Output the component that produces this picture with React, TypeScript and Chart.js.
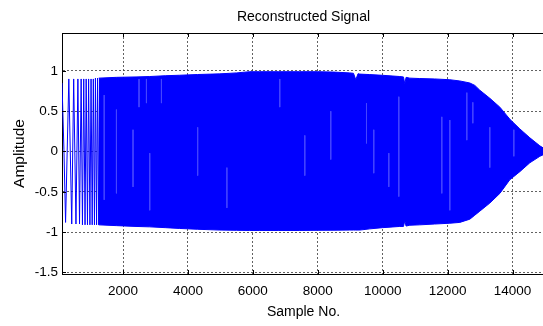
import React, { useEffect, useRef } from "react";
import { Chart, registerables } from "chart.js";

Chart.register(...registerables);

// ---- data ----
const xTicks = [2000, 4000, 6000, 8000, 10000, 12000, 14000];
const yTicks = [-1.5, -1, -0.5, 0, 0.5, 1];

// dense band envelope (sample index, upper / lower amplitude)
const envSamples = [1250, 1800, 2400, 2823, 3300, 3747, 4300, 4980, 5500, 5904, 6213, 6800, 7445, 8000, 8500, 8986, 9100, 9171, 9240, 9294, 9602, 10000, 10527, 10640, 10681, 10720, 10835, 11143, 11600, 12068, 12376, 12684, 12838, 12992, 13300, 13609, 13917, 14225, 14533, 14841, 15000];
const upperEnv = [0.91, 0.92, 0.925, 0.93, 0.94, 0.946, 0.955, 0.963, 0.975, 0.99, 0.99, 0.99, 0.99, 0.99, 0.985, 0.975, 0.97, 0.89, 0.965, 0.96, 0.954, 0.945, 0.93, 0.925, 0.84, 0.92, 0.91, 0.905, 0.9, 0.89, 0.875, 0.85, 0.82, 0.76, 0.66, 0.55, 0.4, 0.28, 0.17, 0.07, 0.03];
const lowerEnv = [-0.91, -0.92, -0.93, -0.935, -0.945, -0.955, -0.965, -0.975, -0.978, -0.98, -0.98, -0.98, -0.98, -0.978, -0.977, -0.975, -0.975, -0.975, -0.975, -0.975, -0.96, -0.945, -0.93, -0.93, -0.86, -0.925, -0.915, -0.91, -0.9, -0.89, -0.88, -0.84, -0.79, -0.74, -0.64, -0.52, -0.35, -0.25, -0.14, -0.06, -0.03];

// sparse onset strokes (individual peaks / troughs before the band fills in)
const onsetSamples = [120, 180, 230, 330, 420, 480, 550, 610, 660, 710, 750, 790, 830, 865, 905, 940, 980, 1015, 1050, 1085, 1120, 1150, 1185, 1215, 1250, 1280];
const onsetValues = [0.85, 0.02, -0.88, 0.9, -0.9, 0.9, -0.9, 0.9, -0.9, 0.9, -0.91, 0.9, -0.91, 0.9, -0.91, 0.9, -0.91, 0.9, -0.91, 0.9, -0.91, 0.91, -0.91, 0.91, -0.91, 0.91];

// lighter streaks visible inside the band
const streakSamples = [1420, 1797, 2308, 2493, 2721, 2823, 3183, 4300, 5200, 6829, 7600, 8400, 9500, 9725, 10188, 10496, 11821, 12068, 12592, 12777, 13300, 14040];
const streakTop = [0.7, 0.52, 0.27, 0.9, 0.9, -0.02, 0.9, 0.3, -0.2, 0.9, 0.2, 0.5, 0.6, 0.27, -0.02, 0.68, 0.43, 0.39, 0.73, 0.61, 0.3, 0.27];
const streakBottom = [-0.6, -0.52, -0.44, 0.55, 0.6, -0.73, 0.6, -0.3, -0.7, 0.55, -0.3, -0.1, 0.1, -0.27, -0.44, -0.56, -0.52, -0.73, 0.14, 0.35, -0.2, -0.06];

const X_MIN = 120;
const X_MAX = 15000;
const Y_MIN = -1.52;
const Y_MAX = 1.47;

const FONT = "'Liberation Sans', Arial, Helvetica, sans-serif";
const BLUE = "#0000ff";

const tickMarks = {
  id: "tickMarks",
  afterDraw(chart: any) {
    const { ctx, chartArea: a, scales } = chart;
    const x = scales.x;
    const y = scales.y;
    ctx.save();
    ctx.strokeStyle = "#000";
    ctx.lineWidth = 1;
    ctx.beginPath();
    xTicks.forEach((v) => {
      const px = Math.round(x.getPixelForValue(v)) + 0.5;
      ctx.moveTo(px, a.bottom);
      ctx.lineTo(px, a.bottom - 4);
      ctx.moveTo(px, a.top);
      ctx.lineTo(px, a.top + 4);
    });
    yTicks.forEach((v) => {
      const py = Math.round(y.getPixelForValue(v)) + 0.5;
      ctx.moveTo(a.left, py);
      ctx.lineTo(a.left + 4, py);
    });
    ctx.stroke();
    ctx.restore();
  },
};

export default function App() {
  const ref = useRef<HTMLCanvasElement | null>(null);

  useEffect(() => {
    document.body.style.margin = "0";
    document.body.style.overflow = "hidden";
    const canvas = ref.current;
    if (!canvas) return;

    const upper = envSamples.map((s, i) => ({ x: s, y: upperEnv[i] }));
    const lower = envSamples.map((s, i) => ({ x: s, y: lowerEnv[i] }));
    const onset = onsetSamples.map((s, i) => ({ x: s, y: onsetValues[i] }));
    const streaks: { x: number; y: number }[] = [];
    streakSamples.forEach((s, i) => {
      streaks.push({ x: s, y: streakTop[i] });
      streaks.push({ x: s, y: streakBottom[i] });
      streaks.push({ x: s, y: NaN });
    });

    const chart = new Chart(canvas, {
      type: "line",
      data: {
        datasets: [
          {
            data: upper,
            borderColor: BLUE,
            backgroundColor: BLUE,
            borderWidth: 1,
            pointRadius: 0,
            fill: "+1",
            tension: 0,
            order: 3,
          },
          {
            data: lower,
            borderColor: BLUE,
            backgroundColor: BLUE,
            borderWidth: 1,
            pointRadius: 0,
            fill: false,
            tension: 0,
            order: 2,
          },
          {
            data: onset,
            borderColor: BLUE,
            borderWidth: 1,
            pointRadius: 0,
            fill: false,
            tension: 0,
            order: 1,
          },
          {
            data: streaks,
            borderColor: "rgba(70,70,255,0.85)",
            borderWidth: 1,
            pointRadius: 0,
            fill: false,
            spanGaps: false,
            order: 0,
          },
        ],
      },
      options: {
        animation: false,
        responsive: false,
        maintainAspectRatio: false,
        parsing: false as any,
        normalized: true,
        layout: { padding: 0 },
        plugins: {
          legend: { display: false },
          tooltip: { enabled: false },
          title: { display: false },
          filler: { drawTime: "beforeDatasetsDraw" },
        },
        scales: {
          x: {
            type: "linear",
            position: "bottom",
            min: X_MIN,
            max: X_MAX,
            afterBuildTicks: (s: any) => {
              s.ticks = xTicks.map((v) => ({ value: v }));
            },
            afterFit: (s: any) => {
              s.height = 52;
            },
            ticks: {
              color: "#000",
              font: { family: FONT, size: 13.5 },
              padding: 9,
              maxRotation: 0,
              autoSkip: false,
              callback: (v: any) => String(v),
            },
            grid: {
              color: "rgba(70,70,70,0.85)",
              lineWidth: 1,
              drawTicks: false,
            },
            border: { display: true, color: "#000", width: 1, dash: [2, 2] },
            title: {
              display: true,
              text: "Sample No.",
              color: "#000",
              font: { family: FONT, size: 14 },
              padding: { top: 0, bottom: 5 },
            },
          },
          x2: {
            type: "linear",
            position: "top",
            min: X_MIN,
            max: X_MAX,
            afterFit: (s: any) => {
              s.height = 33;
            },
            ticks: { display: false },
            grid: { display: false, drawTicks: false },
            border: { display: true, color: "#000", width: 1 },
            title: {
              display: true,
              text: "Reconstructed Signal",
              color: "#000",
              font: { family: FONT, size: 14 },
              padding: { top: 9, bottom: 0 },
            },
          },
          y: {
            type: "linear",
            position: "left",
            min: Y_MIN,
            max: Y_MAX,
            afterBuildTicks: (s: any) => {
              s.ticks = yTicks.map((v) => ({ value: v }));
            },
            afterFit: (s: any) => {
              s.width = 62;
            },
            ticks: {
              color: "#000",
              font: { family: FONT, size: 13.5 },
              padding: 4,
              callback: (v: any) => String(v),
            },
            grid: {
              color: "rgba(70,70,70,0.85)",
              lineWidth: 1,
              drawTicks: false,
            },
            border: { display: true, color: "#000", width: 1, dash: [2, 2] },
            title: {
              display: true,
              text: "Amplitude",
              color: "#000",
              font: { family: FONT, size: 15.5 },
              padding: { top: 10, bottom: 0 },
            },
          },
        },
      } as any,
      plugins: [tickMarks],
    });

    return () => chart.destroy();
  }, []);

  return (
    <div
      style={{
        position: "fixed",
        left: 0,
        top: 0,
        width: 543,
        height: 326,
        overflow: "hidden",
        background: "#fff",
      }}
    >
      <canvas ref={ref} width={545} height={326} style={{ width: 545, height: 326, display: "block" }} />
    </div>
  );
}
